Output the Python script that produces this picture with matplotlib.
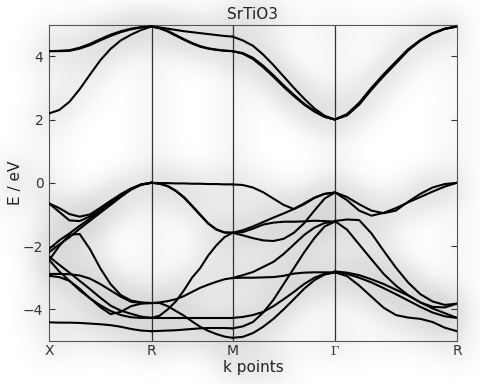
import numpy as np
import matplotlib
matplotlib.use("Agg")
import matplotlib.pyplot as plt

# high-symmetry points along the path
k_ticks = [0.0, 0.707, 1.265, 1.970, 2.812]
k_labels = ["X", "R", "M", r"$\Gamma$", "R"]

# energies read at 11 evenly spaced points on each segment (eV)
frac = np.linspace(0, 1, 11)

bands_XR = [
    # conduction
    [2.19, 2.30, 2.56, 2.96, 3.42, 3.87, 4.23, 4.50, 4.68, 4.83, 4.94],
    [4.16, 4.16, 4.17, 4.24, 4.35, 4.50, 4.64, 4.76, 4.85, 4.91, 4.94],
    [4.16, 4.17, 4.19, 4.27, 4.39, 4.54, 4.68, 4.79, 4.87, 4.92, 4.94],
    # valence
    [-0.65, -0.80, -0.99, -1.07, -1.00, -0.79, -0.57, -0.37, -0.20, -0.06, 0.0],
    [-0.65, -0.92, -1.19, -1.21, -1.06, -0.82, -0.60, -0.36, -0.18, -0.05, 0.0],
    [-2.10, -1.82, -1.60, -1.36, -1.13, -0.89, -0.64, -0.40, -0.19, -0.05, 0.0],
    [-2.20, -1.95, -1.72, -1.45, -1.20, -0.95, -0.70, -0.45, -0.22, -0.06, 0.0],
    [-2.45, -2.00, -1.64, -1.62, -2.10, -2.70, -3.20, -3.55, -3.72, -3.78, -3.80],
    [-2.88, -2.88, -2.89, -2.93, -3.03, -3.20, -3.40, -3.60, -3.76, -3.80, -3.80],
    [-2.33, -2.59, -2.84, -3.10, -3.36, -3.63, -3.88, -4.04, -4.14, -4.23, -4.27],
    [-2.94, -2.98, -3.10, -3.35, -3.65, -3.93, -4.15, -4.08, -3.90, -3.82, -3.80],
    [-2.43, -2.80, -3.10, -3.40, -3.65, -3.87, -4.05, -4.18, -4.25, -4.27, -4.27],
    [-4.41, -4.42, -4.42, -4.43, -4.45, -4.47, -4.50, -4.55, -4.62, -4.67, -4.69],
]

bands_RM = [
    [4.94, 4.91, 4.87, 4.83, 4.79, 4.76, 4.73, 4.70, 4.67, 4.64, 4.62],
    [4.94, 4.88, 4.78, 4.65, 4.52, 4.40, 4.30, 4.24, 4.20, 4.17, 4.16],
    [4.94, 4.89, 4.80, 4.67, 4.54, 4.42, 4.32, 4.25, 4.21, 4.18, 4.16],
    [0.0, -0.01, -0.01, -0.02, -0.02, -0.03, -0.03, -0.04, -0.04, -0.05, -0.05],
    [0.0, -0.03, -0.10, -0.25, -0.45, -0.72, -1.00, -1.28, -1.47, -1.57, -1.58],
    [0.0, -0.03, -0.11, -0.26, -0.47, -0.74, -1.02, -1.29, -1.48, -1.57, -1.58],
    [-4.27, -4.20, -4.00, -3.75, -3.40, -3.00, -2.70, -2.30, -1.98, -1.72, -1.58],
    [-3.80, -3.78, -3.74, -3.68, -3.58, -3.45, -3.32, -3.22, -3.13, -3.05, -3.01],
    [-3.80, -3.80, -3.90, -4.05, -4.20, -4.38, -4.55, -4.68, -4.78, -4.86, -4.90],
    [-4.27, -4.27, -4.27, -4.27, -4.27, -4.27, -4.27, -4.27, -4.27, -4.27, -4.27],
    [-4.69, -4.68, -4.67, -4.66, -4.64, -4.62, -4.60, -4.59, -4.59, -4.59, -4.60],
]

bands_MG = [
    [4.62, 4.50, 4.33, 4.05, 3.72, 3.36, 3.00, 2.66, 2.35, 2.12, 2.00],
    [4.16, 4.10, 3.95, 3.70, 3.40, 3.08, 2.78, 2.50, 2.27, 2.09, 2.00],
    [4.16, 4.08, 3.91, 3.65, 3.35, 3.03, 2.74, 2.47, 2.25, 2.08, 2.00],
    [-0.05, -0.07, -0.15, -0.30, -0.50, -0.70, -0.83, -0.68, -0.48, -0.35, -0.31],
    [-1.58, -1.50, -1.38, -1.24, -1.10, -0.97, -0.83, -0.65, -0.47, -0.35, -0.31],
    [-1.58, -1.66, -1.75, -1.82, -1.84, -1.77, -1.58, -1.28, -0.88, -0.50, -0.31],
    [-1.58, -1.56, -1.45, -1.32, -1.26, -1.23, -1.23, -1.22, -1.20, -1.21, -1.23],
    [-3.01, -2.92, -2.82, -2.66, -2.50, -2.25, -1.95, -1.65, -1.42, -1.27, -1.23],
    [-4.60, -4.54, -4.40, -4.10, -3.70, -3.20, -2.70, -2.20, -1.75, -1.38, -1.23],
    [-3.01, -3.00, -3.00, -2.99, -2.98, -2.94, -2.87, -2.84, -2.83, -2.83, -2.83],
    [-4.27, -4.24, -4.18, -4.08, -3.90, -3.68, -3.45, -3.20, -3.00, -2.88, -2.83],
    [-4.90, -4.87, -4.75, -4.55, -4.30, -4.00, -3.68, -3.35, -3.08, -2.90, -2.83],
]

bands_GR = [
    [2.00, 2.15, 2.50, 2.97, 3.40, 3.80, 4.20, 4.50, 4.72, 4.87, 4.94],
    [2.00, 2.17, 2.53, 3.00, 3.43, 3.83, 4.22, 4.51, 4.73, 4.87, 4.94],
    [2.00, 2.13, 2.47, 2.94, 3.37, 3.77, 4.18, 4.49, 4.71, 4.86, 4.94],
    [-0.30, -0.55, -0.88, -1.04, -0.95, -0.80, -0.62, -0.45, -0.28, -0.12, 0.0],
    [-0.30, -0.45, -0.68, -0.88, -0.96, -0.88, -0.60, -0.35, -0.15, -0.04, 0.0],
    [-1.21, -1.16, -1.18, -1.60, -2.15, -2.68, -3.15, -3.52, -3.75, -3.86, -3.82],
    [-1.21, -1.48, -1.95, -2.42, -2.88, -3.25, -3.55, -3.78, -3.92, -3.94, -3.82],
    [-2.80, -2.84, -2.92, -3.05, -3.20, -3.38, -3.56, -3.78, -3.97, -4.12, -4.27],
    [-2.83, -2.88, -3.00, -3.15, -3.33, -3.52, -3.72, -3.92, -4.10, -4.22, -4.27],
    [-2.83, -2.95, -3.25, -3.60, -3.95, -4.18, -4.26, -4.30, -4.40, -4.58, -4.69],
]

segments = [bands_XR, bands_RM, bands_MG, bands_GR]


def gaussian_blur(img, sigma):
    # FFT blur with padding so the edges don't wrap round
    pad = int(3 * sigma)
    p = np.pad(img, pad, mode="constant")
    fy = np.fft.fftfreq(p.shape[0])[:, None]
    fx = np.fft.fftfreq(p.shape[1])[None, :]
    g = np.exp(-2 * np.pi ** 2 * sigma ** 2 * (fx ** 2 + fy ** 2))
    out = np.real(np.fft.ifft2(np.fft.fft2(p) * g))
    return out[pad:-pad, pad:-pad]


plt.rcParams["mathtext.fontset"] = "cm"
fig = plt.figure(figsize=(4.8, 3.84), dpi=100)
ax = fig.add_axes([0.102, 0.112, 0.850, 0.824])
ax.patch.set_alpha(0)

for i, seg in enumerate(segments):
    k = k_ticks[i] + frac * (k_ticks[i + 1] - k_ticks[i])
    for e in seg:
        ax.plot(k, e, color="black", lw=1.5, zorder=3)

for kt in k_ticks[1:-1]:
    ax.axvline(kt, color="#333333", lw=0.9, zorder=2)

ax.set_xlim(k_ticks[0], k_ticks[-1])
ax.set_ylim(-5, 5)
ax.set_xticks(k_ticks)
ax.set_xticklabels(k_labels)
ax.set_yticks([-4, -2, 0, 2, 4])
ax.tick_params(direction="in", right=True, top=False, length=4, labelsize=10,
               colors="#333333", pad=4)
ax.tick_params(axis="x", length=0, pad=2.5)
for s in ax.spines.values():
    s.set_color("#555555")
ax.set_xlabel("k points", fontsize=11, color="#222222", labelpad=1)
ax.set_ylabel("E / eV", fontsize=11, color="#222222", labelpad=0)
ax.set_title("SrTiO3", fontsize=11, color="#222222", pad=4)

# soft drop-shadow glow: blur the drawn picture and put it underneath
fig.canvas.draw()
rgb = np.asarray(fig.canvas.buffer_rgba())[:, :, :3].astype(float)
dark = 1.0 - rgb.mean(axis=2) / 255.0
blur = gaussian_blur(dark, 15)
glow = 0.2 * (1.0 - np.exp(-blur * 7.0))
shadow = np.zeros(glow.shape + (4,))
shadow[:, :, 3] = glow
fig.figimage(shadow, xo=0, yo=0, origin="upper", zorder=-1)

fig.savefig("out.png", dpi=100)
